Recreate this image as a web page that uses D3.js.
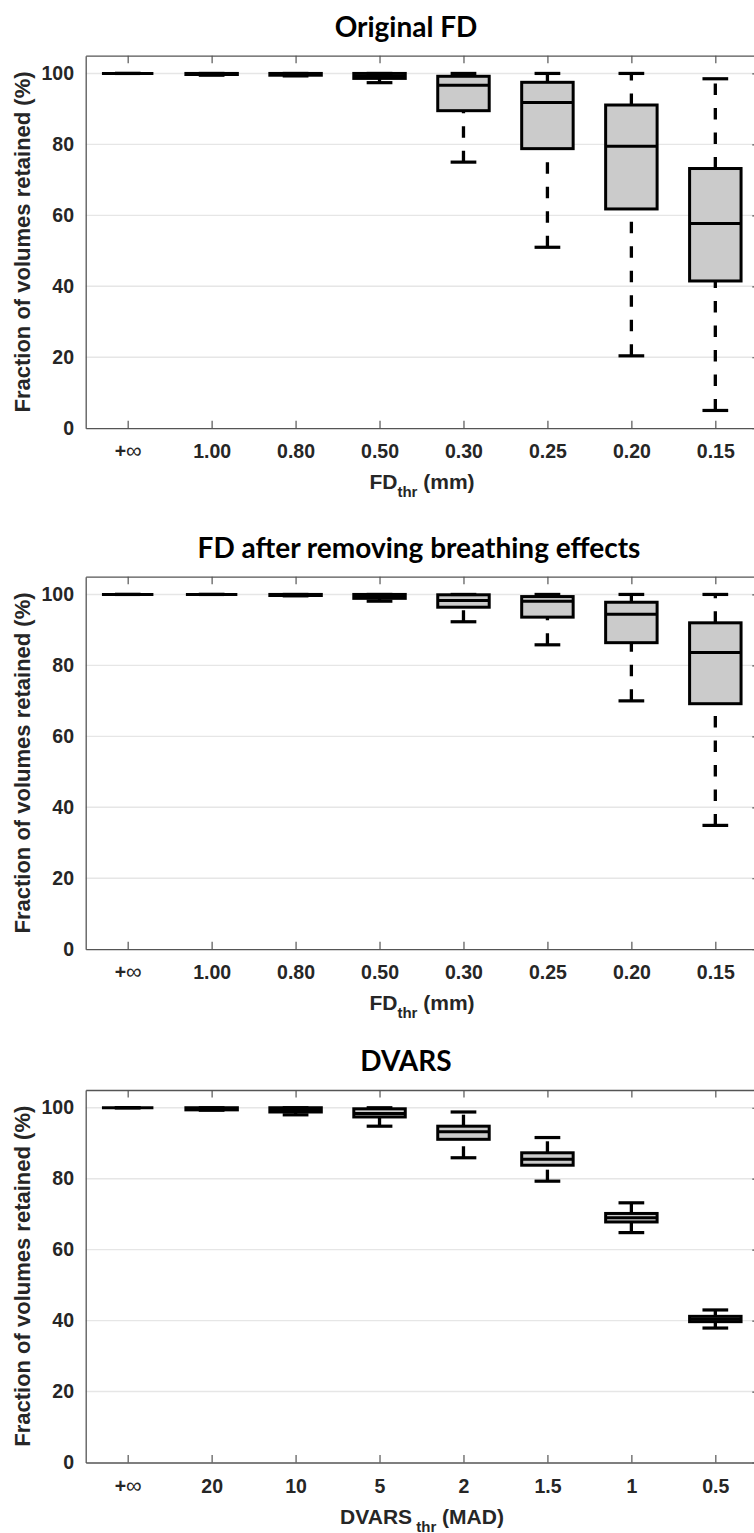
<!DOCTYPE html>
<html>
<head>
<meta charset="utf-8">
<script src="https://cdn.jsdelivr.net/npm/d3@7"></script>
<style>
  body { margin: 0; background: #fff; }
  svg { display: block; }
</style>
</head>
<body>
<svg width="754" height="1533"></svg>
<script>
'use strict';

// x categories
const fdLabels = ['+\u221E', '1.00', '0.80', '0.50', '0.30', '0.25', '0.20', '0.15'];
const dvarsLabels = ['+\u221E', '20', '10', '5', '2', '1.5', '1', '0.5'];
const yTicks = [0, 20, 40, 60, 80, 100];

// box stats per threshold: [min, q1, median, q3, max]
const originalFD = [
  [100, 100, 100, 100, 100],
  [99.5, 99.7, 100, 100, 100],
  [99.3, 99.5, 100, 100, 100],
  [97.4, 98.6, 99.3, 100, 100],
  [75.0, 89.5, 96.7, 99.2, 100],
  [51.0, 78.8, 91.8, 97.5, 100],
  [20.4, 61.8, 79.5, 91.1, 100],
  [5.0, 41.5, 57.7, 73.2, 98.5]
];
const breathingFD = [
  [100, 100, 100, 100, 100],
  [100, 100, 100, 100, 100],
  [99.6, 99.7, 100, 100, 100],
  [98.1, 98.9, 99.6, 100, 100],
  [92.3, 96.4, 98.3, 99.9, 100],
  [85.8, 93.6, 98.1, 99.4, 100],
  [70.0, 86.4, 94.4, 97.8, 100],
  [34.9, 69.2, 83.6, 92.0, 100]
];
const dvars = [
  [100, 100, 100, 100, 100],
  [99.3, 99.4, 99.8, 100, 100],
  [98.0, 98.8, 99.5, 100, 100],
  [94.8, 97.4, 98.4, 99.7, 100],
  [85.9, 91.1, 93.2, 94.8, 98.8],
  [79.3, 83.8, 85.5, 87.3, 91.6],
  [64.8, 67.8, 69.0, 70.2, 73.2],
  [37.9, 39.7, 40.4, 41.2, 43.0]
];

const svg = d3.select('svg');

const left = 85.7, right = 757.3, plotH = 372.5;

const panels = [
  { title: 'Original FD', titleX: 406, top: 55.7, stats: originalFD, cats: fdLabels,
    xTitle: ['FD', 'thr', ' (mm)'] },
  { title: 'FD after removing breathing effects', titleX: 419, top: 576.7, stats: breathingFD, cats: fdLabels,
    xTitle: ['FD', 'thr', ' (mm)'] },
  { title: 'DVARS', titleX: 406, top: 1090, stats: dvars, cats: dvarsLabels,
    xTitle: ['DVARS', ' thr', ' (MAD)'] }
];

panels.forEach(p => {
  const g = svg.append('g');
  const x = d3.scalePoint().domain(p.cats).range([left, right]).padding(0.5);
  const y = d3.scaleLinear().domain([0, 105]).range([p.top + plotH, p.top]);
  const bw = x.step() * 0.613;
  const bottom = y(0);

  // grid
  g.append('g').selectAll('line').data(yTicks.filter(d => d > 0)).enter().append('line')
      .attr('x1', left).attr('x2', right)
      .attr('y1', d => y(d)).attr('y2', d => y(d))
      .attr('stroke', '#e6e6e6').attr('stroke-width', 1.4);

  // axes
  const yAx = g.append('g').attr('transform', `translate(${left},0)`)
      .call(d3.axisLeft(y).tickValues(yTicks).tickSize(0).tickPadding(11.7));
  const xAx = g.append('g').attr('transform', `translate(0,${bottom})`)
      .call(d3.axisBottom(x).tickSize(-7.5).tickSizeOuter(0).tickPadding(16.4));
  const topAx = g.append('g').attr('transform', `translate(0,${p.top})`)
      .call(d3.axisTop(x).tickSize(-7.5).tickSizeOuter(0).tickFormat(''));
  const rAx = g.append('g').attr('transform', `translate(${right},0)`)
      .call(d3.axisRight(y).tickValues(yTicks).tickSize(-5).tickSizeOuter(0).tickFormat(''));

  [yAx, xAx, topAx, rAx].forEach(a => {
    a.select('.domain').attr('stroke', '#555').attr('stroke-width', 1.3);
    a.selectAll('.tick line').attr('stroke', '#555').attr('stroke-width', 1.2);
    a.selectAll('text')
        .attr('fill', '#262626')
        .style('font-family', '"Liberation Sans", Arial, sans-serif')
        .style('font-weight', 'bold')
        .style('font-size', '19.5px');
  });

  // "+inf" label: bold plus, thin infinity sign
  xAx.selectAll('.tick text').filter(d => d.charAt(0) === '+').each(function (d) {
    const t = d3.select(this).text('');
    t.append('tspan').text('+');
    t.append('tspan').style('font-weight', 'normal').style('font-size', '22px').text(d.slice(1));
  });

  // boxes
  const boxes = g.append('g').selectAll('g').data(p.stats).enter().append('g')
      .attr('transform', (d, i) => `translate(${x(p.cats[i])},0)`);

  const dash = '11.5,13';
  boxes.append('line')
      .attr('x1', 0).attr('x2', 0)
      .attr('y1', d => y(d[3])).attr('y2', d => y(d[4]))
      .attr('stroke', '#000').attr('stroke-width', 3.3).attr('stroke-dasharray', dash);
  boxes.append('line')
      .attr('x1', 0).attr('x2', 0)
      .attr('y1', d => y(d[0])).attr('y2', d => y(d[1]))
      .attr('stroke', '#000').attr('stroke-width', 3.3).attr('stroke-dasharray', dash);

  boxes.append('rect')
      .attr('x', -bw / 2).attr('width', bw)
      .attr('y', d => y(d[3]))
      .attr('height', d => y(d[1]) - y(d[3]))
      .attr('fill', '#cbcbcb').attr('stroke', '#000').attr('stroke-width', 3);

  boxes.append('line')
      .attr('x1', -bw / 2).attr('x2', bw / 2)
      .attr('y1', d => y(d[2])).attr('y2', d => y(d[2]))
      .attr('stroke', '#000').attr('stroke-width', 3);

  [0, 4].forEach(k => {
    boxes.append('line')
        .attr('x1', -bw / 4).attr('x2', bw / 4)
        .attr('y1', d => y(d[k])).attr('y2', d => y(d[k]))
        .attr('stroke', '#000').attr('stroke-width', 3.2);
  });

  // title
  g.append('text')
      .attr('x', p.titleX).attr('y', p.top - 28.7)
      .attr('dy', '0.35em')
      .attr('text-anchor', 'middle')
      .style('font-family', 'Lato, "Open Sans", sans-serif')
      .style('font-weight', 'bold')
      .style('font-size', '28px')
      .attr('fill', '#000')
      .text(p.title);

  // y label
  g.append('text')
      .attr('transform', `translate(22,${(p.top + bottom) / 2}) rotate(-90)`)
      .attr('dy', '0.35em')
      .attr('text-anchor', 'middle')
      .style('font-family', '"Liberation Sans", Arial, sans-serif')
      .style('font-weight', 'bold')
      .style('font-size', '22px')
      .attr('fill', '#262626')
      .text('Fraction of volumes retained (%)');

  // x label with subscript
  const xt = g.append('text')
      .attr('x', 422).attr('y', bottom + 61)
      .attr('text-anchor', 'middle')
      .style('font-family', '"Liberation Sans", Arial, sans-serif')
      .style('font-weight', 'bold')
      .attr('fill', '#262626');
  xt.append('tspan').style('font-size', '21px').text(p.xTitle[0]);
  xt.append('tspan').style('font-size', '15px').attr('dy', 8).text(p.xTitle[1]);
  xt.append('tspan').style('font-size', '21px').attr('dy', -8).text(p.xTitle[2]);
});
</script>
</body>
</html>
